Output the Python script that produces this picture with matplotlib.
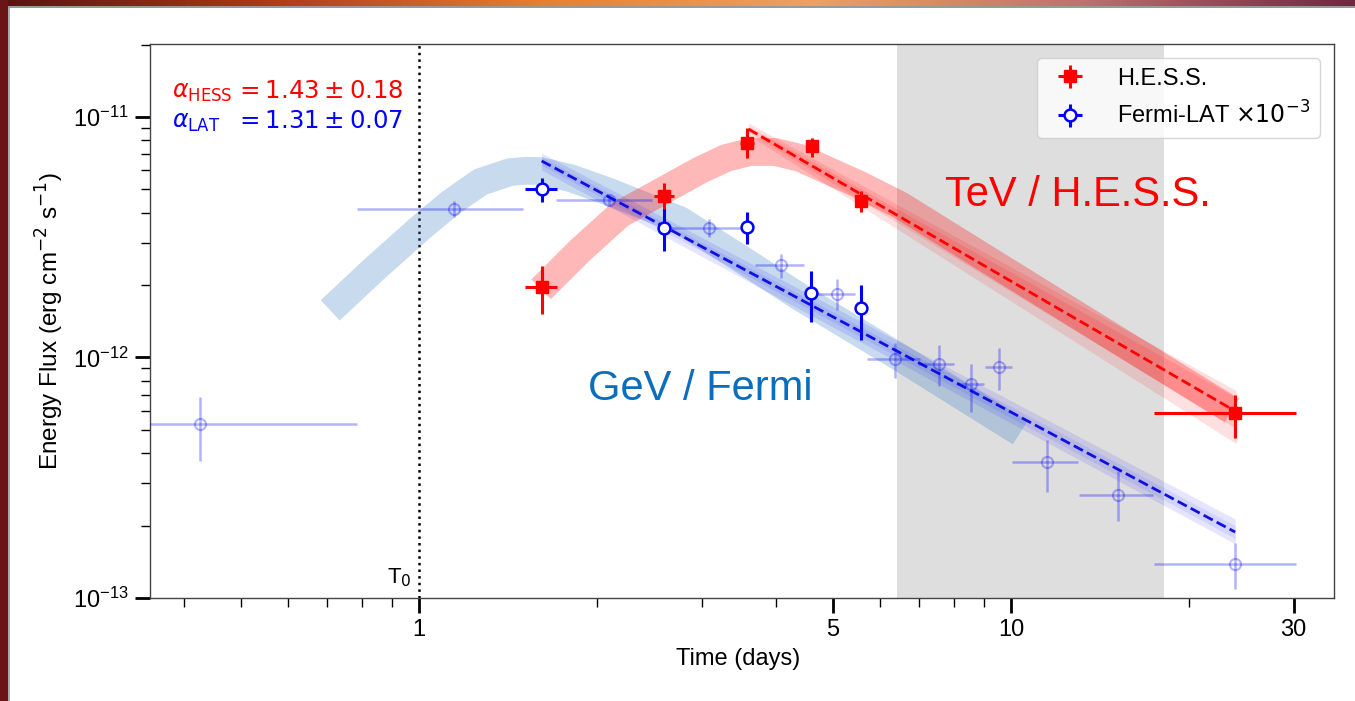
import numpy as np
import matplotlib
matplotlib.use("Agg")
import matplotlib.pyplot as plt
from matplotlib.patches import Rectangle
from matplotlib.colors import LinearSegmentedColormap
from matplotlib.ticker import FixedLocator, FixedFormatter, LogLocator, NullFormatter, LogFormatterSciNotation

plt.rcParams['font.family'] = ['Liberation Sans', 'DejaVu Sans']
plt.rcParams['mathtext.fontset'] = 'dejavusans'

# H.E.S.S. light curve (days, erg cm-2 s-1)
hess_t = [1.61, 2.59, 3.58, 4.61, 5.58, 23.9]
hess_t_lo = [1.51, 2.49, 3.48, 4.51, 5.48, 17.4]
hess_t_hi = [1.71, 2.69, 3.68, 4.71, 5.68, 30.3]
hess_f = [1.96e-12, 4.69e-12, 7.81e-12, 7.57e-12, 4.47e-12, 5.85e-13]
hess_f_lo = [1.51e-12, 4.14e-12, 6.75e-12, 6.84e-12, 4.02e-12, 4.64e-13]
hess_f_hi = [2.40e-12, 5.31e-12, 9.00e-12, 8.18e-12, 4.92e-12, 6.95e-13]

# Fermi-LAT, nightly bins (bold)
lat_t = [1.61, 2.59, 3.58, 4.59, 5.57]
lat_t_lo = [1.51, 2.55, 3.54, 4.55, 5.53]
lat_t_hi = [1.71, 2.63, 3.62, 4.63, 5.61]
lat_f = [5.00e-12, 3.46e-12, 3.47e-12, 1.86e-12, 1.60e-12]
lat_f_lo = [4.43e-12, 2.77e-12, 2.96e-12, 1.41e-12, 1.18e-12]
lat_f_hi = [5.57e-12, 4.18e-12, 4.02e-12, 2.29e-12, 2.01e-12]

# Fermi-LAT, other binning (faint)
lat2_t = [0.427, 1.143, 2.094, 3.086, 4.088, 5.077, 6.37, 7.55, 8.54, 9.54, 11.51, 15.18, 23.9]
lat2_t_lo = [0.07, 0.785, 1.703, 2.634, 3.695, 4.667, 5.71, 6.97, 8.09, 9.03, 10.03, 13.0, 17.4]
lat2_t_hi = [0.785, 1.50, 2.478, 3.58, 4.47, 5.45, 7.02, 8.01, 9.01, 10.03, 12.99, 17.35, 30.3]
lat2_f = [5.27e-13, 4.15e-12, 4.51e-12, 3.46e-12, 2.43e-12, 1.84e-12, 9.88e-13,
          9.42e-13, 7.72e-13, 9.12e-13, 3.66e-13, 2.69e-13, 1.38e-13]
lat2_f_lo = [3.70e-13, 3.82e-12, 4.30e-12, 3.17e-12, 2.14e-12, 1.58e-12, 8.24e-13,
             7.59e-13, 5.91e-13, 7.29e-13, 2.75e-13, 2.08e-13, 1.09e-13]
lat2_f_hi = [6.84e-13, 4.48e-12, 4.72e-12, 3.76e-12, 2.70e-12, 2.11e-12, 1.15e-12,
             1.13e-12, 9.42e-13, 1.09e-12, 4.54e-13, 3.36e-13, 1.70e-13]

# power-law fits: end points + bowtie edges
hess_fit_t = [3.6, 24.0]
hess_fit_f = [8.9e-12, 5.95e-13]
hess_band_hi = [9.44e-12, 7.29e-13]
hess_band_lo = [8.41e-12, 4.38e-13]
hess_band_hi2 = [9.15e-12, 6.81e-13]
hess_band_lo2 = [8.65e-12, 5.06e-13]

lat_fit_t = [1.61, 23.9]
lat_fit_f = [6.56e-12, 1.88e-13]
lat_band_hi = [7.08e-12, 2.13e-13]
lat_band_lo = [6.01e-12, 1.68e-13]
lat_band_hi2 = [6.8e-12, 2.0e-13]
lat_band_lo2 = [6.3e-12, 1.77e-13]

# broad illustrative curves
gev_t = [0.7075, 0.843, 1.004, 1.128, 1.268, 1.425, 1.51, 1.601, 1.80, 2.10, 2.76, 3.48, 4.40, 6.49, 10.36]
gev_f = [1.57e-12, 2.35e-12, 3.45e-12, 4.38e-12, 5.36e-12, 5.90e-12, 5.97e-12, 5.96e-12, 5.57e-12,
         4.87e-12, 3.72e-12, 2.59e-12, 1.78e-12, 1.00e-12, 4.87e-13]
tev_t = [1.607, 1.871, 2.185, 2.594, 2.984, 3.30, 3.624, 4.00, 4.40, 5.56, 6.49, 9.58, 14.13, 23.6]
tev_f = [1.92e-12, 2.79e-12, 3.94e-12, 4.97e-12, 6.01e-12, 6.75e-12, 7.15e-12, 7.15e-12, 6.75e-12,
         5.21e-12, 4.30e-12, 2.37e-12, 1.31e-12, 6.02e-13]

x_major = [1, 5, 10, 30]
x_major_labels = ['1', '5', '10', '30']
y_major = [1e-13, 1e-12, 1e-11]

RED = '#ff0000'
BLUE = '#0000ff'

fig = plt.figure(figsize=(13.55, 7.01), dpi=100)
ax = fig.add_axes([150 / 1355, 1 - 598 / 701, 1184 / 1355, 554 / 701])

ax.axvspan(6.42, 18.1, color='#dedede', lw=0, zorder=0)
ax.axvline(1.0, color='black', ls=':', lw=1.8, zorder=1)

ax.plot(gev_t, gev_f, color='#4a86c8', alpha=0.3, lw=20, solid_capstyle='butt',
        solid_joinstyle='round', zorder=1)
ax.plot(tev_t, tev_f, color=RED, alpha=0.28, lw=20, solid_capstyle='butt',
        solid_joinstyle='round', zorder=1)

ax.fill_between(hess_fit_t, hess_band_lo, hess_band_hi, color=RED, alpha=0.12, lw=0, zorder=2)
ax.fill_between(hess_fit_t, hess_band_lo2, hess_band_hi2, color=RED, alpha=0.12, lw=0, zorder=2)
ax.fill_between(lat_fit_t, lat_band_lo, lat_band_hi, color=BLUE, alpha=0.1, lw=0, zorder=2)
ax.fill_between(lat_fit_t, lat_band_lo2, lat_band_hi2, color=BLUE, alpha=0.08, lw=0, zorder=2)
ax.plot(hess_fit_t, hess_fit_f, color=RED, ls='--', lw=2, zorder=3)
ax.plot(lat_fit_t, lat_fit_f, color='#1010e0', ls='--', lw=2, zorder=3)

def errs(c, lo, hi):
    c = np.array(c)
    return [c - np.array(lo), np.array(hi) - c]

ax.errorbar(lat2_t, lat2_f, xerr=errs(lat2_t, lat2_t_lo, lat2_t_hi),
            yerr=errs(lat2_f, lat2_f_lo, lat2_f_hi), fmt='o', ms=8, mfc='none',
            mec=BLUE, color=BLUE, alpha=0.3, elinewidth=1.8, mew=1.5, capsize=0, zorder=4)
ax.errorbar(lat_t, lat_f, xerr=errs(lat_t, lat_t_lo, lat_t_hi),
            yerr=errs(lat_f, lat_f_lo, lat_f_hi), fmt='o', ms=8.5, mfc='white',
            mec=BLUE, color=BLUE, elinewidth=2.2, mew=1.8, capsize=0, zorder=5,
            label=r'Fermi-LAT $\times10^{-3}$')
ax.errorbar(hess_t, hess_f, xerr=errs(hess_t, hess_t_lo, hess_t_hi),
            yerr=errs(hess_f, hess_f_lo, hess_f_hi), fmt='s', ms=8,
            color=RED, elinewidth=2.2, capsize=0, zorder=6, label='H.E.S.S.')

ax.set_xscale('log')
ax.set_yscale('log')
ax.set_xlim(0.351, 35.1)
ax.set_ylim(1e-13, 2.01e-11)

ax.xaxis.set_major_locator(FixedLocator(x_major))
ax.xaxis.set_major_formatter(FixedFormatter(x_major_labels))
ax.xaxis.set_minor_locator(LogLocator(base=10, subs=np.arange(2, 10)))
ax.xaxis.set_minor_formatter(NullFormatter())
ax.yaxis.set_major_locator(FixedLocator(y_major))
ax.yaxis.set_major_formatter(LogFormatterSciNotation())
ax.yaxis.set_minor_locator(LogLocator(base=10, subs=np.arange(2, 10)))
ax.yaxis.set_minor_formatter(NullFormatter())

ax.tick_params(which='major', length=11, width=2, labelsize=17, pad=4, color='black')
ax.tick_params(which='minor', length=6.5, width=1, color='black',
               labelleft=False, labelbottom=False)
for s in ax.spines.values():
    s.set_color('#444444')
    s.set_linewidth(1)

ax.set_xlabel('Time (days)', fontsize=17)
ax.set_ylabel(r'Energy Flux (erg cm$^{-2}$ s$^{-1}$)', fontsize=17.5)
ax.xaxis.set_label_coords(0.497, -0.09)
ax.yaxis.set_label_coords(-0.071, 0.5)

h, l = ax.get_legend_handles_labels()
leg = ax.legend(h[::-1], l[::-1], loc='upper right', fontsize=17, framealpha=0.8,
                borderaxespad=0.6, handletextpad=1.0)

ax.text(0.0186, 0.9025, r'$\alpha_{\rm HESS}$', color=RED, fontsize=17,
        transform=ax.transAxes, va='baseline')
ax.text(0.0718, 0.9025, r'$= 1.43 \pm 0.18$', color=RED, fontsize=17.6,
        transform=ax.transAxes, va='baseline')
ax.text(0.0186, 0.848, r'$\alpha_{\rm LAT}$', color=BLUE, fontsize=17,
        transform=ax.transAxes, va='baseline')
ax.text(0.0718, 0.848, r'$= 1.31 \pm 0.07$', color=BLUE, fontsize=17.6,
        transform=ax.transAxes, va='baseline')

ax.text(0.2213, 0.027, r'T$_0$', fontsize=16, ha='right', va='baseline',
        transform=ax.transAxes)
ax.text(0.6715, 0.7076, 'TeV / H.E.S.S.', color=RED, fontsize=30,
        transform=ax.transAxes, va='baseline')
ax.text(0.3699, 0.3574, 'GeV / Fermi', color='#0a6ebd', fontsize=30,
        transform=ax.transAxes, va='baseline')

# slide border around the figure
cmap = LinearSegmentedColormap.from_list(
    'slide', ['#5a1212', '#b03a1a', '#e8802e', '#f0a060', '#c07070', '#6a2a40'])
strip = cmap(np.linspace(0, 1, 1355))[None, :, :3].repeat(6, axis=0)
fig.figimage(strip, xo=0, yo=695, zorder=-5)
fig.patches.append(Rectangle((0, 693 / 701), 1, 2 / 701, transform=fig.transFigure,
                             facecolor='#999999', edgecolor='none', zorder=-5))
fig.patches.append(Rectangle((0, 0), 8 / 1355, 1, transform=fig.transFigure,
                             facecolor='#6a1616', edgecolor='none', zorder=-4))
fig.patches.append(Rectangle((8 / 1355, 0), 2 / 1355, 693 / 701, transform=fig.transFigure,
                             facecolor='#aaaaaa', edgecolor='none', zorder=-4))

fig.savefig('out.png', dpi=100)
